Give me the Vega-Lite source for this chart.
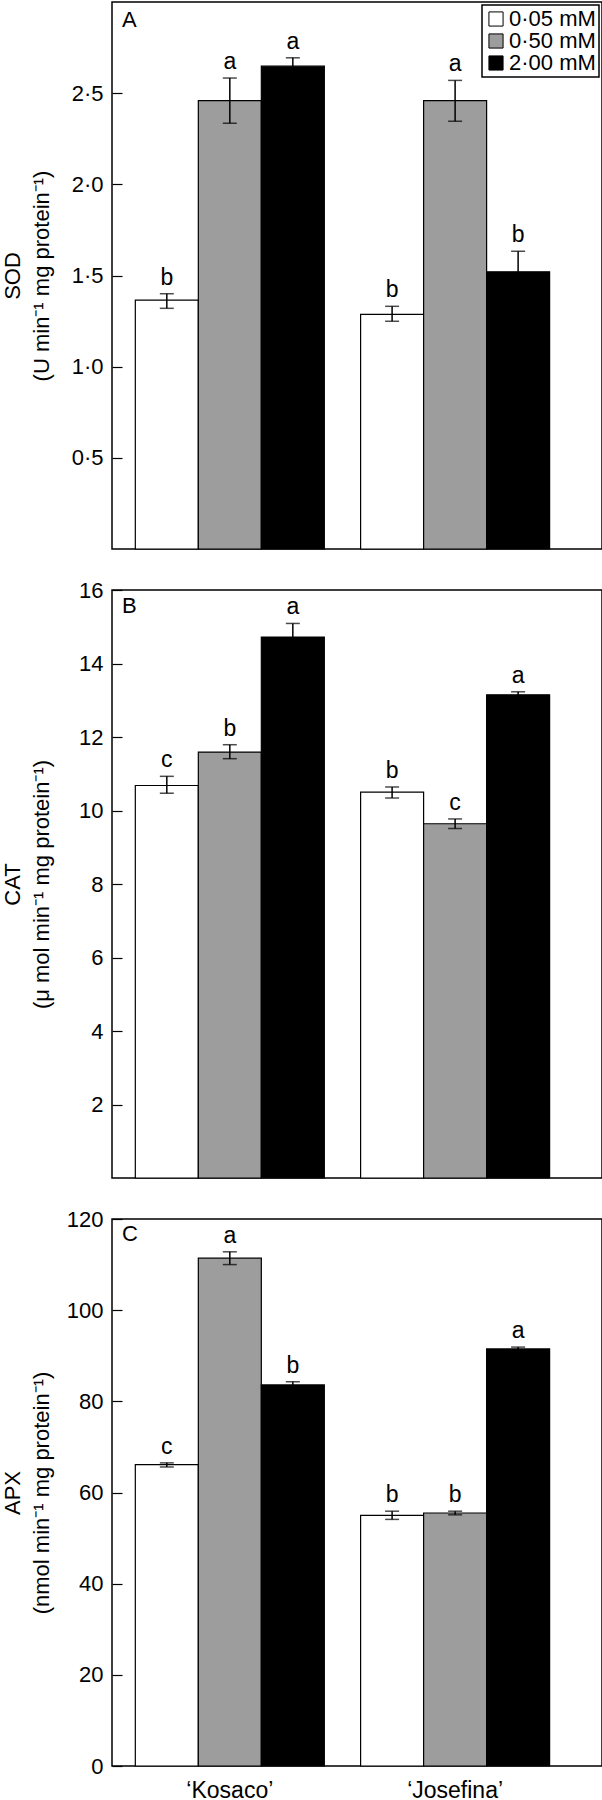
{
  "$schema": "https://vega.github.io/schema/vega-lite/v6.json",
  "padding": {"left": 0, "top": 1, "right": 1, "bottom": 0},
  "bounds": "flush",
  "spacing": 41,
  "config": {
    "font": "Liberation Sans",
    "view": {"stroke": "black", "strokeWidth": 1.5},
    "axis": {
      "labelFont": "Liberation Sans", "labelFontSize": 22, "labelColor": "black",
      "titleFont": "Liberation Sans", "titleFontSize": 22, "titleFontWeight": "normal", "titleColor": "black",
      "domain": false, "tickColor": "black", "tickWidth": 1.2, "grid": false
    },
    "axisY": {"tickSize": -10, "labelPadding": 19, "titleX": -93, "titleBaseline": "alphabetic", "titleLineHeight": 29},
    "legend": {"strokeWidth": 1.5},
    "title": {"font": "Liberation Sans", "fontSize": 22, "fontWeight": "normal", "color": "black"},
    "text": {"font": "Liberation Sans"}
  },
  "datasets": {
    "sod": [
      {"cultivar": "‘Kosaco’", "conc": "0·05 mM", "mean": 1.365, "lo": 1.32, "hi": 1.40, "letter": "b"},
      {"cultivar": "‘Kosaco’", "conc": "0·50 mM", "mean": 2.459, "lo": 2.335, "hi": 2.583, "letter": "a"},
      {"cultivar": "‘Kosaco’", "conc": "2·00 mM", "mean": 2.648, "lo": 2.60, "hi": 2.694, "letter": "a"},
      {"cultivar": "‘Josefina’", "conc": "0·05 mM", "mean": 1.287, "lo": 1.249, "hi": 1.331, "letter": "b"},
      {"cultivar": "‘Josefina’", "conc": "0·50 mM", "mean": 2.459, "lo": 2.346, "hi": 2.570, "letter": "a"},
      {"cultivar": "‘Josefina’", "conc": "2·00 mM", "mean": 1.520, "lo": 1.41, "hi": 1.633, "letter": "b"}
    ],
    "cat": [
      {"cultivar": "‘Kosaco’", "conc": "0·05 mM", "mean": 10.68, "lo": 10.47, "hi": 10.93, "letter": "c"},
      {"cultivar": "‘Kosaco’", "conc": "0·50 mM", "mean": 11.59, "lo": 11.41, "hi": 11.79, "letter": "b"},
      {"cultivar": "‘Kosaco’", "conc": "2·00 mM", "mean": 14.72, "lo": 14.35, "hi": 15.09, "letter": "a"},
      {"cultivar": "‘Josefina’", "conc": "0·05 mM", "mean": 10.50, "lo": 10.34, "hi": 10.64, "letter": "b"},
      {"cultivar": "‘Josefina’", "conc": "0·50 mM", "mean": 9.64, "lo": 9.51, "hi": 9.77, "letter": "c"},
      {"cultivar": "‘Josefina’", "conc": "2·00 mM", "mean": 13.15, "lo": 13.07, "hi": 13.23, "letter": "a"}
    ],
    "apx": [
      {"cultivar": "‘Kosaco’", "conc": "0·05 mM", "mean": 66.1, "lo": 65.6, "hi": 66.5, "letter": "c"},
      {"cultivar": "‘Kosaco’", "conc": "0·50 mM", "mean": 111.4, "lo": 110.0, "hi": 112.8, "letter": "a"},
      {"cultivar": "‘Kosaco’", "conc": "2·00 mM", "mean": 83.6, "lo": 82.9, "hi": 84.3, "letter": "b"},
      {"cultivar": "‘Josefina’", "conc": "0·05 mM", "mean": 54.96, "lo": 54.1, "hi": 55.9, "letter": "b"},
      {"cultivar": "‘Josefina’", "conc": "0·50 mM", "mean": 55.5, "lo": 55.1, "hi": 55.9, "letter": "b"},
      {"cultivar": "‘Josefina’", "conc": "2·00 mM", "mean": 91.5, "lo": 91.1, "hi": 91.9, "letter": "a"}
    ]
  },
  "vconcat": [
    {
      "width": 490, "height": 547,
      "data": {"name": "sod"},
      "title": {"text": "A", "anchor": "start", "frame": "group", "orient": "top", "baseline": "top", "offset": -30, "dx": 10},
      "encoding": {
        "x": {"field": "cultivar", "type": "nominal", "sort": ["‘Kosaco’", "‘Josefina’"], "scale": {"paddingInner": 0.161, "paddingOuter": 0.168, "align": 0.308}, "axis": null},
        "xOffset": {"field": "conc", "type": "nominal", "sort": ["0·05 mM", "0·50 mM", "2·00 mM"], "scale": {"paddingInner": 0, "paddingOuter": 0}}
      },
      "layer": [
        {
          "mark": {"type": "bar", "stroke": "black", "strokeWidth": 1.2},
          "encoding": {
            "y": {"field": "mean", "type": "quantitative", "scale": {"domain": [0, 3], "nice": false},
              "axis": {"title": ["SOD", "(U min⁻¹ mg protein⁻¹)"], "values": [0.5, 1, 1.5, 2, 2.5], "labelExpr": "replace(format(datum.value, '.1f'), '.', '·')"}},
            "fill": {"field": "conc", "type": "nominal", "scale": {"domain": ["0·05 mM", "0·50 mM", "2·00 mM"], "range": ["#ffffff", "#9d9d9d", "#000000"]},
              "legend": {"title": null, "orient": "top-right", "offset": 3, "strokeColor": "black", "padding": 3, "fillColor": "white",
                "symbolType": "square", "symbolSize": 200, "symbolStrokeColor": "black", "symbolStrokeWidth": 1, "labelFontSize": 22, "labelColor": "black", "labelFont": "Liberation Sans", "labelOffset": 2, "rowPadding": 0}}
          }
        },
        {"mark": {"type": "rule", "color": "black", "strokeWidth": 1.5}, "encoding": {"y": {"field": "lo", "type": "quantitative"}, "y2": {"field": "hi"}}},
        {"mark": {"type": "tick", "color": "black", "thickness": 1.5, "size": 14}, "encoding": {"y": {"field": "hi", "type": "quantitative"}}},
        {"mark": {"type": "tick", "color": "black", "thickness": 1.5, "size": 14}, "encoding": {"y": {"field": "lo", "type": "quantitative"}}},
        {"mark": {"type": "text", "dy": -9, "baseline": "alphabetic", "fontSize": 23, "color": "black"}, "encoding": {"y": {"field": "hi", "type": "quantitative"}, "text": {"field": "letter"}}}
      ]
    },
    {
      "width": 490, "height": 588,
      "data": {"name": "cat"},
      "title": {"text": "B", "anchor": "start", "frame": "group", "orient": "top", "baseline": "top", "offset": -39, "dx": 10},
      "encoding": {
        "x": {"field": "cultivar", "type": "nominal", "sort": ["‘Kosaco’", "‘Josefina’"], "scale": {"paddingInner": 0.161, "paddingOuter": 0.168, "align": 0.308}, "axis": null},
        "xOffset": {"field": "conc", "type": "nominal", "sort": ["0·05 mM", "0·50 mM", "2·00 mM"], "scale": {"paddingInner": 0, "paddingOuter": 0}}
      },
      "layer": [
        {
          "mark": {"type": "bar", "stroke": "black", "strokeWidth": 1.2},
          "encoding": {
            "y": {"field": "mean", "type": "quantitative", "scale": {"domain": [0, 16], "nice": false},
              "axis": {"title": ["CAT", "(μ mol min⁻¹ mg protein⁻¹)"], "values": [2, 4, 6, 8, 10, 12, 14, 16]}},
            "fill": {"field": "conc", "type": "nominal", "scale": {"domain": ["0·05 mM", "0·50 mM", "2·00 mM"], "range": ["#ffffff", "#9d9d9d", "#000000"]}, "legend": null}
          }
        },
        {"mark": {"type": "rule", "color": "black", "strokeWidth": 1.5}, "encoding": {"y": {"field": "lo", "type": "quantitative"}, "y2": {"field": "hi"}}},
        {"mark": {"type": "tick", "color": "black", "thickness": 1.5, "size": 14}, "encoding": {"y": {"field": "hi", "type": "quantitative"}}},
        {"mark": {"type": "tick", "color": "black", "thickness": 1.5, "size": 14}, "encoding": {"y": {"field": "lo", "type": "quantitative"}}},
        {"mark": {"type": "text", "dy": -9, "baseline": "alphabetic", "fontSize": 23, "color": "black"}, "encoding": {"y": {"field": "hi", "type": "quantitative"}, "text": {"field": "letter"}}}
      ]
    },
    {
      "width": 490, "height": 547,
      "data": {"name": "apx"},
      "title": {"text": "C", "anchor": "start", "frame": "group", "orient": "top", "baseline": "top", "offset": -38, "dx": 10},
      "encoding": {
        "x": {"field": "cultivar", "type": "nominal", "sort": ["‘Kosaco’", "‘Josefina’"], "scale": {"paddingInner": 0.161, "paddingOuter": 0.168, "align": 0.308},
          "axis": {"title": null, "ticks": false, "domain": false, "labelAngle": 0, "labelFontSize": 23, "labelPadding": 13}},
        "xOffset": {"field": "conc", "type": "nominal", "sort": ["0·05 mM", "0·50 mM", "2·00 mM"], "scale": {"paddingInner": 0, "paddingOuter": 0}}
      },
      "layer": [
        {
          "mark": {"type": "bar", "stroke": "black", "strokeWidth": 1.2},
          "encoding": {
            "y": {"field": "mean", "type": "quantitative", "scale": {"domain": [0, 120], "nice": false},
              "axis": {"title": ["APX", "(nmol min⁻¹ mg protein⁻¹)"], "values": [0, 20, 40, 60, 80, 100, 120]}},
            "fill": {"field": "conc", "type": "nominal", "scale": {"domain": ["0·05 mM", "0·50 mM", "2·00 mM"], "range": ["#ffffff", "#9d9d9d", "#000000"]}, "legend": null}
          }
        },
        {"mark": {"type": "rule", "color": "black", "strokeWidth": 1.5}, "encoding": {"y": {"field": "lo", "type": "quantitative"}, "y2": {"field": "hi"}}},
        {"mark": {"type": "tick", "color": "black", "thickness": 1.5, "size": 14}, "encoding": {"y": {"field": "hi", "type": "quantitative"}}},
        {"mark": {"type": "tick", "color": "black", "thickness": 1.5, "size": 14}, "encoding": {"y": {"field": "lo", "type": "quantitative"}}},
        {"mark": {"type": "text", "dy": -9, "baseline": "alphabetic", "fontSize": 23, "color": "black"}, "encoding": {"y": {"field": "hi", "type": "quantitative"}, "text": {"field": "letter"}}}
      ]
    }
  ],
  "resolve": {"scale": {"fill": "independent", "y": "independent", "x": "independent", "xOffset": "independent"}, "legend": {"fill": "independent"}}
}
